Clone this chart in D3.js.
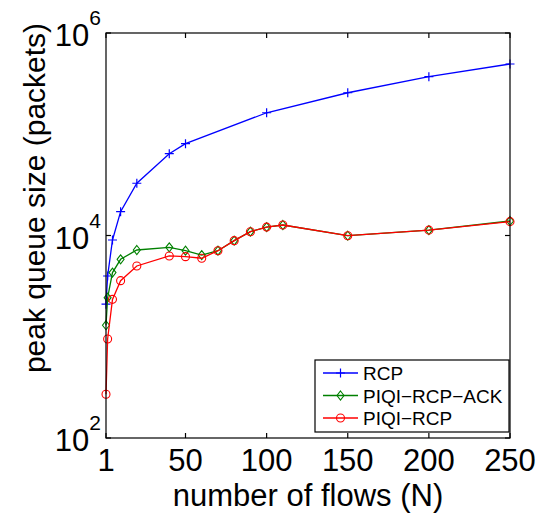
<!DOCTYPE html>
<html>
<head>
<meta charset="utf-8">
<script src="https://cdn.jsdelivr.net/npm/d3@7"></script>
<style>
  body { margin: 0; background: #fff; }
  text { font-family: "Liberation Sans", Arial, sans-serif; fill: #000; }
</style>
</head>
<body>
<div id="box-chart"></div>
<script>
// number of flows (N) for each series
var rcpFlows = [1, 2, 5, 10, 20, 40, 50, 100, 150, 200, 250];
var piqiFlows = [1, 2, 5, 10, 20, 40, 50, 60, 70, 80, 90, 100, 110, 150, 200, 250];

// peak queue size (packets)
var rcpQueue = [2100, 3980, 9030, 17200, 32800, 64300, 80700, 163000, 257000, 370000, 494000];
var piqiAckQueue = [1300, 2430, 4300, 5820, 7190, 7640, 7080, 6410, 7080, 8890, 10900, 12100, 12700, 9950, 11300, 13900];
var piqiQueue = [270, 950, 2340, 3580, 5000, 6280, 6180, 5960, 7080, 8890, 10900, 12100, 12700, 9950, 11300, 13700];

var xTicks = [1, 50, 100, 150, 200, 250];
var yTicks = [2, 4, 6]; // exponents of 10

var seriesNames = ["RCP", "PIQI\u2212RCP\u2212ACK", "PIQI\u2212RCP"];
var seriesColors = ["#0000ff", "#008000", "#ff0000"];
var seriesMarks = ["plus", "diamond", "circle"];

var width = 542, height = 514;
var margin = {left: 106, right: 32, top: 33, bottom: 76};

var svg = d3.select("#box-chart").append("svg")
  .attr("width", width).attr("height", height);

var x = d3.scaleLinear().domain([1, 250]).range([margin.left, width - margin.right]);
var y = d3.scaleLog().domain([100, 1e6]).range([height - margin.bottom, margin.top]);

var series = [
  {name: seriesNames[0], xs: rcpFlows, ys: rcpQueue},
  {name: seriesNames[1], xs: piqiFlows, ys: piqiAckQueue},
  {name: seriesNames[2], xs: piqiFlows, ys: piqiQueue}
];
series.forEach(function(s, i){
  s.color = seriesColors[i];
  s.mark = seriesMarks[i];
  s.points = s.xs.map(function(v, j){ return {n: v, q: s.ys[j]}; });
});

function drawMark(sel, kind, color){
  if(kind === "plus"){
    sel.append("path").attr("d", "M-4.5,0H4.5M0,-4.5V4.5")
      .attr("stroke", color).attr("stroke-width", 1.2).attr("fill", "none");
  } else if(kind === "diamond"){
    sel.append("path").attr("d", "M0,-4.5L3.5,0L0,4.5L-3.5,0Z")
      .attr("stroke", color).attr("stroke-width", 1.1).attr("fill", "none");
  } else {
    sel.append("circle").attr("r", 4)
      .attr("stroke", color).attr("stroke-width", 1.1).attr("fill", "none");
  }
}

var line = d3.line()
  .x(function(d){ return x(d.n); })
  .y(function(d){ return y(d.q); });

// series
series.forEach(function(s){
  var g = svg.append("g");
  g.append("path")
    .datum(s.points)
    .attr("d", line)
    .attr("fill", "none")
    .attr("stroke", s.color)
    .attr("stroke-width", 1.3);
  g.selectAll(".mk")
    .data(s.points)
    .enter()
    .append("g")
    .attr("transform", function(d){ return "translate(" + x(d.n) + "," + y(d.q) + ")"; })
    .each(function(){ drawMark(d3.select(this), s.mark, s.color); });
});

// axes, box style with inward ticks
var x0 = x.range()[0], x1 = x.range()[1];
var y0 = y.range()[0], y1 = y.range()[1];
var tickLen = 5;

var axisG = svg.append("g").attr("stroke", "#000").attr("stroke-width", 1.2);
axisG.append("rect")
  .attr("x", x0).attr("y", y1)
  .attr("width", x1 - x0).attr("height", y0 - y1)
  .attr("fill", "none");

xTicks.forEach(function(t){
  axisG.append("line").attr("x1", x(t)).attr("x2", x(t)).attr("y1", y0).attr("y2", y0 - tickLen);
  axisG.append("line").attr("x1", x(t)).attr("x2", x(t)).attr("y1", y1).attr("y2", y1 + tickLen);
});
yTicks.forEach(function(e){
  var v = Math.pow(10, e);
  axisG.append("line").attr("x1", x0).attr("x2", x0 + tickLen).attr("y1", y(v)).attr("y2", y(v));
  axisG.append("line").attr("x1", x1).attr("x2", x1 - tickLen).attr("y1", y(v)).attr("y2", y(v));
});

svg.selectAll(".xtick")
  .data(xTicks)
  .enter()
  .append("text")
  .attr("x", function(d){ return x(d); })
  .attr("y", y0 + 33)
  .attr("text-anchor", "middle")
  .style("font-size", "31px")
  .text(function(d){ return d; });

var yl = svg.selectAll(".ytick")
  .data(yTicks)
  .enter()
  .append("text")
  .attr("x", x0 - 5)
  .attr("y", function(d){ return y(Math.pow(10, d)) + 13; })
  .attr("text-anchor", "end")
  .style("font-size", "31px");
yl.append("tspan").text("10");
yl.append("tspan")
  .attr("dy", -21)
  .style("font-size", "21px")
  .text(function(d){ return d; });

svg.append("text")
  .attr("x", (x0 + x1) / 2)
  .attr("y", 506)
  .attr("text-anchor", "middle")
  .style("font-size", "31px")
  .text("number of flows (N)");

svg.append("text")
  .attr("transform", "translate(45,198) rotate(-90)")
  .attr("text-anchor", "middle")
  .style("font-size", "30px")
  .text("peak queue size (packets)");

// legend
var lg = svg.append("g").attr("transform", "translate(315,360)");
lg.append("rect")
  .attr("width", 194).attr("height", 72)
  .attr("fill", "#fff").attr("stroke", "#000").attr("stroke-width", 1.2);

var rows = lg.selectAll(".row")
  .data(series)
  .enter()
  .append("g")
  .attr("transform", function(d, i){ return "translate(0," + (13 + i * 22.5) + ")"; });
rows.append("line")
  .attr("x1", 8).attr("x2", 43)
  .attr("stroke", function(d){ return d.color; })
  .attr("stroke-width", 1.3);
rows.each(function(d){
  var m = d3.select(this).append("g").attr("transform", "translate(25.5,0)");
  drawMark(m, d.mark, d.color);
});
rows.append("text")
  .attr("x", 48)
  .attr("y", 7)
  .style("font-size", "19px")
  .text(function(d){ return d.name; });
</script>
</body>
</html>
